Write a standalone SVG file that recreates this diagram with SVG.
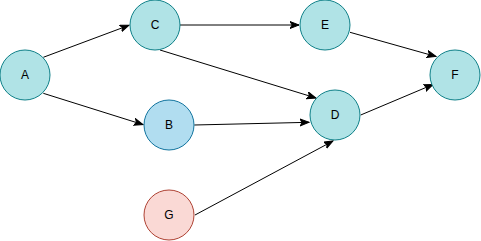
<svg xmlns="http://www.w3.org/2000/svg" width="481" height="241" viewBox="0 0 481 241">
<style>
.n{stroke-width:1}
.t{fill:#b0e3e6;stroke:#0e8088}
.b{fill:#b1ddf0;stroke:#10739e}
.g{fill:#fad9d5;stroke:#ae4132}
text{font-family:"Liberation Sans",Arial,sans-serif;font-size:12px;fill:#000;text-anchor:middle;dominant-baseline:central}
.e{fill:none;stroke:#000;stroke-width:1;marker-end:url(#arr)}
</style>
<defs>
<marker id="arr" markerUnits="userSpaceOnUse" markerWidth="12" markerHeight="10" refX="9" refY="4" orient="auto" viewBox="0 0 12 10">
<path d="M0,0.5 L9,4 L0,7.5 L2.2,4 Z" fill="#000" stroke="#000" stroke-width="1" stroke-linejoin="miter"/>
</marker>
</defs>
<rect width="481" height="241" fill="#fff"/>
<g id="edges">
<path class="e" d="M43.3,57.3 L129,25.3"/>
<path class="e" d="M43.3,93.3 L143,124.6"/>
<path class="e" d="M180,25 L299,25"/>
<path class="e" d="M160,50 L316,98"/>
<path class="e" d="M350,32.3 L436,56.5"/>
<path class="e" d="M360.7,115 L433,84.5"/>
<path class="e" d="M194.3,125 L309,122.3"/>
<path class="e" d="M195,215 L333,141"/>
</g>
<g id="A"><circle class="n t" cx="25" cy="75" r="25"/><text x="25" y="75">A</text></g>
<g id="C"><circle class="n t" cx="155" cy="25" r="25"/><text x="155" y="25">C</text></g>
<g id="B"><circle class="n b" cx="169" cy="125" r="25"/><text x="169" y="125">B</text></g>
<g id="G"><circle class="n g" cx="169" cy="215" r="25"/><text x="169" y="215">G</text></g>
<g id="E"><circle class="n t" cx="325" cy="25" r="25"/><text x="325" y="25">E</text></g>
<g id="D"><circle class="n t" cx="335" cy="115" r="25"/><text x="335" y="115">D</text></g>
<g id="F"><circle class="n t" cx="455" cy="75" r="25"/><text x="455" y="75">F</text></g>
</svg>
